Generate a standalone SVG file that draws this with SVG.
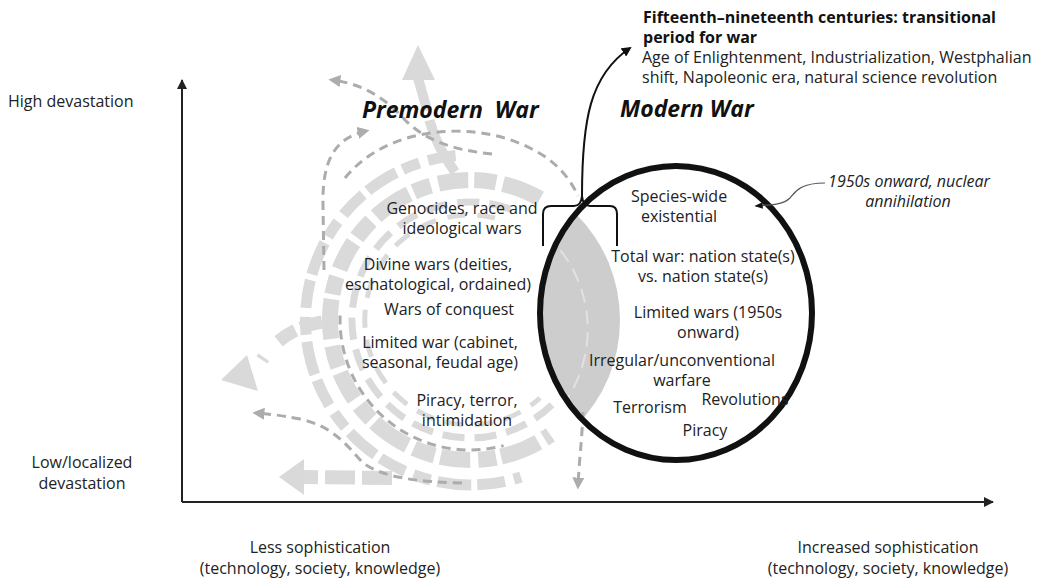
<svg xmlns="http://www.w3.org/2000/svg" width="1050" height="580" viewBox="0 0 1050 580">
<style>
  text{font-family:"Open Sans","Noto Sans","DejaVu Sans",sans-serif;font-size:16px;fill:#222}
  .c{text-anchor:middle}
  .head{font-weight:bold;font-style:italic;font-size:23px;fill:#111}
  .b{font-weight:bold;fill:#111}
  .it{font-style:italic}
  .axis{stroke:#222;stroke-width:2;fill:none}
  .band{fill:none;stroke:#dadada}
  .trail{fill:none;stroke:#acacac;stroke-width:3;stroke-dasharray:9 6}
  .tip{fill:#d9d9d9}
  .link{fill:none;stroke:#111;stroke-width:2}
</style>
<defs>
  <marker id="axHead" viewBox="0 0 10 10" refX="9" refY="5" markerWidth="5" markerHeight="5" orient="auto"><path d="M0,0 L10,5 L0,10 z" fill="#222"/></marker>
  <marker id="grayHead" viewBox="0 0 10 10" refX="7" refY="5" markerWidth="4" markerHeight="4" orient="auto"><path d="M0,0 L10,5 L0,10 z" fill="#acacac"/></marker>
  <marker id="blackHead" viewBox="0 0 10 10" refX="8" refY="5" markerWidth="5" markerHeight="5" orient="auto"><path d="M0,0 L10,5 L0,10 z" fill="#111"/></marker>
  <marker id="thinHead" viewBox="0 0 10 10" refX="8" refY="5" markerWidth="7" markerHeight="7" orient="auto"><path d="M0,1 L10,5 L0,9 z" fill="#111"/></marker>
  <clipPath id="inCircle"><ellipse cx="676" cy="313" rx="136" ry="147"/></clipPath>
</defs>

<!-- axes -->
<g id="axes">
  <path class="axis" d="M182,502 L182,80" marker-end="url(#axHead)"/>
  <path class="axis" d="M182,502 L993,502" marker-end="url(#axHead)"/>
</g>

<!-- premodern swirl: concentric dashed bands with branching arrows -->
<g id="swirl">
  <circle cx="470" cy="320" r="150" fill="#cdcdcd" clip-path="url(#inCircle)"/>
  <path d="M528,221 A128,128 0 0 1 552,418" fill="none" stroke="#e2e2e2" stroke-width="2" stroke-dasharray="14 8" clip-path="url(#inCircle)"/>
  <path class="band" stroke-width="5" stroke="#eeeeee" stroke-dasharray="18 12" d="M495,218 A105,105 0 1 0 540,398"/>
  <path class="band" stroke-width="11" stroke="#dedede" stroke-dasharray="28 9 18 7 34 6" d="M455.6,155.6 A165,165 0 1 0 521,477"/>
  <path class="band" stroke-width="16" stroke-dasharray="40 7 22 6 30 8 18 5" d="M540,198.8 A140,140 0 1 0 550.3,434.7"/>
  <path class="band" stroke-width="7" stroke="#e6e6e6" stroke-dasharray="22 10" d="M510.4,209.1 A118,118 0 1 0 553.4,403.4"/>
  <!-- upward branch -->
  <path class="band" stroke-width="10" stroke-dasharray="58 10 40" d="M455,172 C440,150 432,135 427,110 L418,78"/>
  <polygon class="tip" points="418,45 402,80 435,80"/>
  <!-- left branches -->
  <path class="band" stroke-width="13" stroke-dasharray="22 6 20" d="M322,322 C298,326 276,338 262,360"/>
  <polygon class="tip" points="221,380 247,355 258,391"/>
  <path class="band" stroke-width="14" stroke-dasharray="30 7" d="M392,478 L303,477"/>
  <polygon class="tip" points="279,477 304,459 304,495"/>
  <!-- darker trails -->
  <path class="trail" d="M340.1,315.5 A130,130 0 0 0 503.6,445.6"/>
  <path class="trail" d="M345,178 C385,128 470,118 530,148 C555,160 570,178 578,196"/>
  <path class="trail" d="M492,154 C452,150 425,140 405,120 C387,100 365,84 332,80" marker-end="url(#grayHead)"/>
  <path class="trail" d="M324,270 L323,205 C322,160 335,138 366,131" marker-end="url(#grayHead)"/>
  <path class="trail" d="M462,483 C420,482 382,478 362,462 C346,444 332,426 300,419 C280,415 268,414 256,413" marker-end="url(#grayHead)"/>
  <path class="trail" d="M583,412 C582,440 579,462 578,486" marker-end="url(#grayHead)"/>
</g>

<!-- modern war circle -->
<g id="modern-circle">
  <ellipse cx="676" cy="313" rx="136" ry="147" fill="none" stroke="#111" stroke-width="6"/>
</g>

<!-- connectors -->
<g id="connectors">
  <path class="link" d="M543,246 L543,214 Q543,206 551,206 L574,206 Q581,206 582,196 Q583,206 590,206 L610,206 Q617,206 617,214 L617,246"/>
  <path class="link" d="M582,196 C582,120 590,75 630,48" marker-end="url(#blackHead)"/>
  <path fill="none" stroke="#555" stroke-width="1.2" d="M825,183 C800,183 795,192 790,198 C783,205 770,205 756,206" marker-end="url(#thinHead)"/>
</g>

<!-- axis labels -->
<g id="label-high"><text x="8" y="107">High devastation</text></g>
<g id="label-low"><text class="c" x="82" y="468">Low/localized</text><text class="c" x="82" y="489">devastation</text></g>
<g id="label-less"><text class="c" x="320" y="553">Less sophistication</text><text class="c" x="320" y="574">(technology, society, knowledge)</text></g>
<g id="label-more"><text class="c" x="888" y="553">Increased sophistication</text><text class="c" x="888" y="574">(technology, society, knowledge)</text></g>

<!-- headings -->
<g id="premodern-title"><text class="head" x="362" y="118" xml:space="preserve">Premodern  War</text></g>
<g id="modern-title"><text class="head" x="620" y="117">Modern War</text></g>

<g id="transition-note">
  <text class="b" x="643" y="23">Fifteenth–nineteenth centuries: transitional</text>
  <text class="b" x="643" y="43">period for war</text>
  <text x="642" y="63">Age of Enlightenment, Industrialization, Westphalian</text>
  <text x="642" y="83">shift, Napoleonic era, natural science revolution</text>
</g>
<g id="nuclear-note">
  <text class="c it" x="909" y="187">1950s onward, nuclear</text>
  <text class="c it" x="908" y="207">annihilation</text>
</g>

<!-- premodern categories -->
<g id="genocides"><text class="c" x="462" y="214">Genocides, race and</text><text class="c" x="462" y="234">ideological wars</text></g>
<g id="divine"><text class="c" x="438" y="270">Divine wars (deities,</text><text class="c" x="438" y="290">eschatological, ordained)</text></g>
<g id="conquest"><text class="c" x="449" y="315">Wars of conquest</text></g>
<g id="limited-premodern"><text class="c" x="440" y="348">Limited war (cabinet,</text><text class="c" x="440" y="368">seasonal, feudal age)</text></g>
<g id="piracy-premodern"><text class="c" x="467" y="406">Piracy, terror,</text><text class="c" x="467" y="426">intimidation</text></g>

<!-- modern categories -->
<g id="species"><text class="c" x="679" y="202">Species-wide</text><text class="c" x="679" y="222">existential</text></g>
<g id="total-war"><text class="c" x="703" y="262">Total war: nation state(s)</text><text class="c" x="703" y="282">vs. nation state(s)</text></g>
<g id="limited-modern"><text class="c" x="708" y="318">Limited wars (1950s</text><text class="c" x="708" y="338">onward)</text></g>
<g id="irregular"><text class="c" x="682" y="366">Irregular/unconventional</text><text class="c" x="682" y="386">warfare</text></g>
<g id="terrorism"><text class="c" x="650" y="413">Terrorism</text></g>
<g id="revolutions"><text class="c" x="745" y="405">Revolutions</text></g>
<g id="piracy-modern"><text class="c" x="705" y="436">Piracy</text></g>
</svg>
